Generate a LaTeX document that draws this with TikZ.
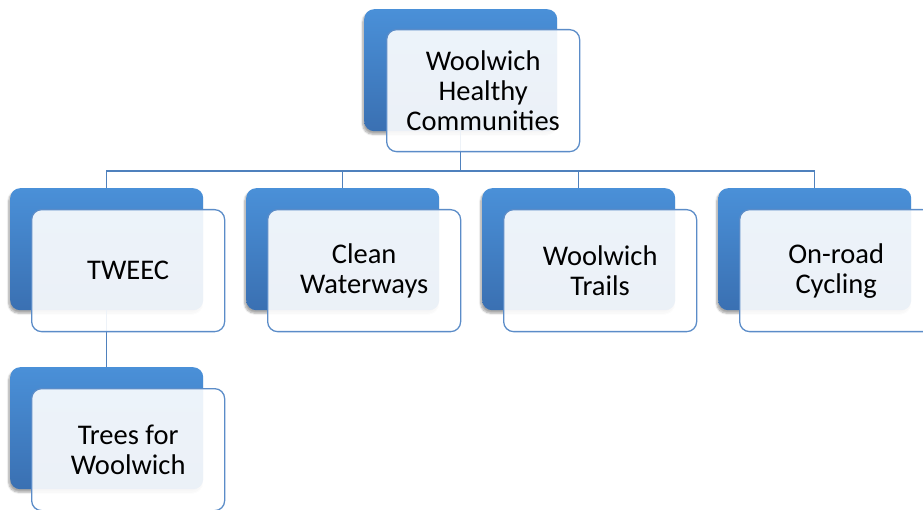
\documentclass[tikz,border=0pt]{standalone}
\usepackage{fontspec}
\setmainfont{Carlito}
\usetikzlibrary{shadows.blur}
\definecolor{backtop}{HTML}{4A90D8}
\definecolor{backbot}{HTML}{3A70B2}
\definecolor{edgeblue}{HTML}{5B8CC8}
\definecolor{lineblue}{HTML}{4F81BD}
\tikzset{
  backbox/.style={anchor=north west, minimum width=193pt, minimum height=122pt,
    rounded corners=10pt, top color=backtop, bottom color=backbot, draw=none,
    blur shadow={shadow xshift=-1.5pt, shadow yshift=-3pt, shadow opacity=35, shadow blur steps=6}},
  frontbox/.style={anchor=north west, minimum width=193pt, minimum height=122pt,
    rounded corners=10pt, fill=white, fill opacity=0.9, text opacity=1,
    draw=edgeblue, line width=1.3pt, align=center,
    font=\fontsize{28.5}{30}\selectfont},
  conn/.style={draw=lineblue, line width=1.2pt}
}
\begin{document}
\begin{tikzpicture}[x=1pt,y=1pt]
\useasboundingbox (0,0) rectangle (923,-510);
% back boxes
\node[backbox] (b0) at (364,-9) {};
\node[backbox] (b1) at (10,-188) {};
\node[backbox] (b2) at (246,-188) {};
\node[backbox] (b3) at (482,-188) {};
\node[backbox] (b4) at (718,-188) {};
\node[backbox] (b5) at (10,-367) {};
% connectors
\coordinate (bus) at (0,-171);
\draw[conn] (b0.south) |- (b1.north |- bus) -- (b1.north);
\draw[conn] (b0.south) |- (b4.north |- bus) -- (b4.north);
\draw[conn] (b2.north |- bus) -- (b2.north);
\draw[conn] (b3.north |- bus) -- (b3.north);
\draw[conn] (b1.south) -- (b5.north);
% front boxes
\node[frontbox] (f0) at (386,-29) {Woolwich\\Healthy\\Communities};
\node[frontbox] (f1) at (31,-209) {TWEEC};
\node[frontbox] (f2) at (267,-209) {Clean\\Waterways};
\node[frontbox] (f3) at (503,-209) {Woolwich\\Trails};
\node[frontbox] (f4) at (739,-209) {On-road\\Cycling};
\node[frontbox] (f5) at (31,-388) {Trees for\\Woolwich};
\end{tikzpicture}
\end{document}
